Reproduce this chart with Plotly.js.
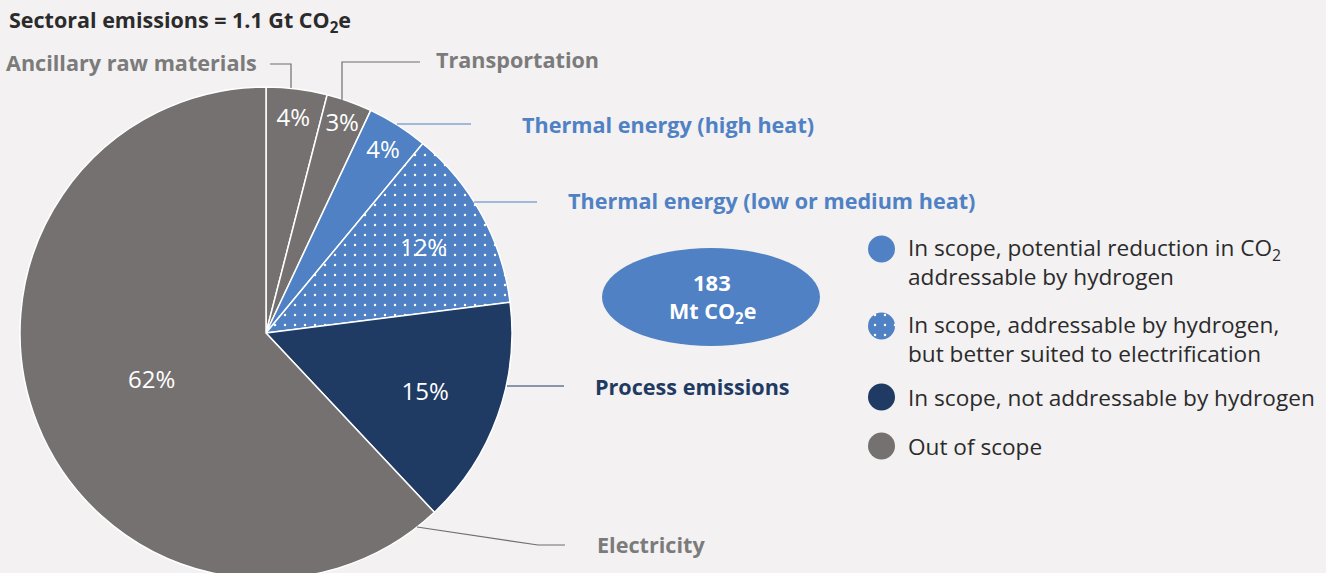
<!DOCTYPE html>
<html>
<head>
<meta charset="utf-8">
<script src="https://cdn.plot.ly/plotly-3.0.1.min.js"></script>
<style>
html,body{margin:0;padding:0;background:#f3f1f2;overflow:hidden;}
#chart{width:1326px;height:600px;}
</style>
</head>
<body>
<div id="chart"></div>
<script>
// ---- data ----
const categories = ['Ancillary raw materials','Transportation','Thermal energy (high heat)','Thermal energy (low or medium heat)','Process emissions','Electricity'];
const shares = [4, 3, 4, 12, 15, 62];
const sliceGroup = ['out','out','inH2','inElec','inNot','out'];
const titleText = 'Sectoral emissions = 1.1 Gt CO<sub>2</sub>e';
const totalValue = '183';
const totalUnit = 'Mt CO<sub>2</sub>e';
const legendGroups = ['inH2','inElec','inNot','out'];
const legendLabels = [
  'In scope, potential reduction in CO<sub>2</sub><br>addressable by hydrogen',
  'In scope, addressable by hydrogen,<br>but better suited to electrification',
  'In scope, not addressable by hydrogen',
  'Out of scope'
];

// ---- styles ----
const W = 1326, H = 600;
const BG = '#f3f1f2';
const GRAY = '#757170', BLUE = '#4f81c4', NAVY = '#1f3a63';
const groupColor = {out: GRAY, inH2: BLUE, inElec: BLUE, inNot: NAVY};
const groupPattern = {out: '', inH2: '', inElec: '.', inNot: ''};
const labelColor = {out: '#7b7b7b', inH2: BLUE, inElec: BLUE, inNot: NAVY};
const FONT = '"Open Sans", sans-serif';

const px = x => x / W;
const py = y => 1 - y / H;

// pie geometry (pixels)
const cx = 266, cy = 333, R = 246;

const traces = [{
  type: 'pie',
  labels: categories,
  values: shares,
  sort: false,
  direction: 'clockwise',
  rotation: 0,
  domain: {x: [px(cx - R), px(cx + R)], y: [py(cy + R), py(cy - R)]},
  marker: {
    colors: sliceGroup.map(g => groupColor[g]),
    line: {color: '#ffffff', width: 1.5},
    pattern: {
      shape: sliceGroup.map(g => groupPattern[g]),
      fgcolor: '#ffffff',
      bgcolor: sliceGroup.map(g => groupColor[g]),
      fillmode: 'replace',
      size: 10,
      solidity: 0.05
    }
  },
  texttemplate: '%{value}%',
  textposition: 'inside',
  insidetextorientation: 'horizontal',
  textfont: {color: '#ffffff', size: 24, family: FONT},
  hoverinfo: 'label+percent',
  showlegend: false
}];

// legend icon for patterned group (tiny pie)
const legY = [249, 326, 397, 446];
const legTextY = [262, 339, 397, 446];
const legX = 881.5, legR = 13.5;
legendGroups.forEach((g, i) => {
  if (groupPattern[g]) {
    traces.push({
      type: 'pie', values: [1], labels: [legendLabels[i]], sort: false,
      domain: {x: [px(legX - legR), px(legX + legR)], y: [py(legY[i] + legR), py(legY[i] - legR)]},
      marker: {colors: [groupColor[g]], line: {width: 0},
        pattern: {shape: [groupPattern[g]], fgcolor: '#ffffff', bgcolor: [groupColor[g]],
          fillmode: 'replace', size: 10, solidity: 0.05}},
      textinfo: 'none', hoverinfo: 'skip', showlegend: false
    });
  }
});

const shapes = [];
const annotations = [];

// title
annotations.push({xref:'paper', yref:'paper', x: px(7), y: py(21), xanchor:'left', yanchor:'middle',
  text: '<b>' + titleText + '</b>', showarrow:false, font:{family:FONT, size:21.5, color:'#2b2b2b'}});

// leader lines & category labels
const leaders = [
  {path: [[270,64],[291,64],[291,88]], tx: 259, ty: 63, anchor: 'right'},
  {path: [[420,62],[342,62],[342,100]], tx: 434, ty: 60, anchor: 'left'},
  {path: [[397,124],[471,124]], tx: 520, ty: 124, anchor: 'left'},
  {path: [[474,202],[537,202]], tx: 566, ty: 201, anchor: 'left'},
  {path: [[507,386],[564,386]], tx: 593, ty: 386, anchor: 'left'},
  {path: [[417,527],[538,545],[565,545]], tx: 595, ty: 544, anchor: 'left'}
];
leaders.forEach((L, i) => {
  const g = sliceGroup[i];
  const d = L.path.map((p, k) => (k ? 'L' : 'M') + px(p[0]) + ',' + py(p[1])).join(' ');
  shapes.push({type:'path', xref:'paper', yref:'paper', path: d,
    line:{color: g === 'out' ? '#6f6f6f' : labelColor[g], width: 1.2}});
  annotations.push({xref:'paper', yref:'paper', x: px(L.tx), y: py(L.ty), xanchor: L.anchor, yanchor:'middle',
    text: '<b>' + categories[i] + '</b>', showarrow:false, font:{family:FONT, size:21.6, color: labelColor[g]}});
});

// total ellipse
shapes.push({type:'circle', xref:'paper', yref:'paper', x0: px(602), x1: px(820), y0: py(346), y1: py(248),
  fillcolor: BLUE, line:{width:0}, layer:'below'});
annotations.push({xref:'paper', yref:'paper', x: px(712), y: py(282), xanchor:'center', yanchor:'middle',
  text: '<b>' + totalValue + '</b>', showarrow:false, font:{family:FONT, size:22, color:'#ffffff'}});
annotations.push({xref:'paper', yref:'paper', x: px(712), y: py(312), xanchor:'center', yanchor:'middle',
  text: '<b>' + totalUnit + '</b>', showarrow:false, font:{family:FONT, size:21.5, color:'#ffffff'}});

// legend
legendGroups.forEach((g, i) => {
  if (!groupPattern[g]) {
    shapes.push({type:'circle', xref:'paper', yref:'paper',
      x0: px(legX - legR), x1: px(legX + legR), y0: py(legY[i] + legR), y1: py(legY[i] - legR),
      fillcolor: groupColor[g], line:{width:0}});
  }
  annotations.push({xref:'paper', yref:'paper', x: px(906), y: py(legTextY[i]), xanchor:'left', yanchor:'middle',
    align:'left', text: legendLabels[i], showarrow:false,
    font:{family:FONT, size:22.6, color:'#2b2b2b'}});
});

const layout = {
  width: W, height: H,
  margin: {l:0, r:0, t:0, b:0},
  paper_bgcolor: BG, plot_bgcolor: BG,
  showlegend: false,
  uniformtext: {minsize: 24, mode: 'show'},
  shapes: shapes,
  annotations: annotations,
  font: {family: FONT}
};

Plotly.newPlot('chart', traces, layout, {displayModeBar:false, staticPlot:true});
</script>
</body>
</html>
